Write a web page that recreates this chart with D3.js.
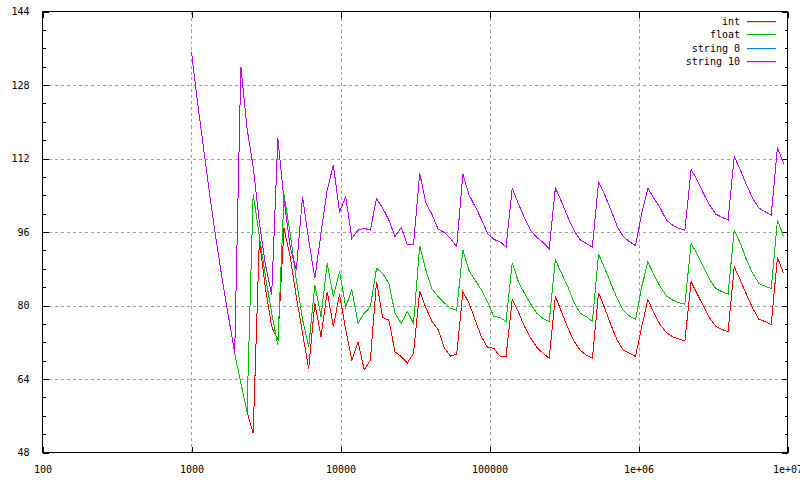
<!DOCTYPE html>
<html>
<head>
<meta charset="utf-8">
<script src="https://cdn.jsdelivr.net/npm/d3@7"></script>
<style>
  html, body { margin: 0; padding: 0; background: #fff; }
  svg { display: block; }
  text { font-family: "DejaVu Sans Mono", monospace; font-size: 10px; fill: #000; }
</style>
</head>
<body>
<svg id="chart" width="800" height="480"></svg>
<script>
// ---- data ----
const nValues = [1000,1100,1210,1331,1464,1611,1772,1949,2144,2358,2594,2853,3138,3452,3797,4177,4595,5054,5560,6116,6727,7400,8140,8954,9850,10835,11918,13110,14421,15863,17449,19194,21114,23225,25548,28102,30913,34004,37404,41145,45259,49785,54764,60240,66264,72890,80180,88197,97017,106719,117391,129130,142043,156247,171872,189059,207965,228762,251638,276801,304482,334930,368423,405265,445792,490371,539408,593349,652683,717952,789747,868722,955594,1051153,1156269,1271895,1399085,1538993,1692893,1862182,2048400,2253240,2478564,2726421,2999063,3298969,3628866,3991753,4390928,4830021,5313023,5844325,6428758,7071633,7778797,8556676,9412344];

const intValues = [135.2,124.0,113.8,103.7,94.3,85.5,77.6,69.6,63.1,56.9,52.2,94.3,83.7,75.4,72.5,96.8,90.6,81.9,74.0,66.3,80.5,73.2,83.0,75.4,82.5,74.7,68.1,72.1,66.0,68.1,85.2,77.4,76.8,69.9,68.9,67.5,69.6,83.2,79.5,76.5,74.7,70.7,69.0,69.4,83.0,80.5,76.8,73.2,70.9,70.7,69.0,68.9,81.3,78.6,75.4,72.9,70.9,69.6,68.5,82.0,78.6,75.2,72.3,70.3,69.2,68.5,82.8,79.4,75.8,72.5,70.3,69.6,68.9,75.4,81.3,78.3,75.8,74.1,73.2,72.7,72.3,85.2,82.5,79.9,77.3,75.5,74.8,74.3,88.4,85.5,82.3,79.4,77.0,76.5,75.8,90.5,87.0];

const floatValues = [135.2,124.0,113.8,103.7,94.3,85.5,77.6,69.6,63.1,56.9,104.3,95.0,86.3,78.3,71.4,104.1,95.7,85.5,77.0,71.0,84.5,77.6,89.2,81.9,87.4,79.7,83.4,76.1,78.3,79.7,88.1,87.0,84.8,78.3,76.1,78.7,76.1,93.0,87.7,83.6,81.9,80.6,79.4,79.0,92.1,87.6,85.5,83.4,80.8,77.6,77.4,76.5,89.3,85.2,82.6,80.3,78.3,77.2,76.5,90.0,87.0,84.1,80.8,78.3,77.6,76.5,91.2,88.1,84.8,81.6,78.9,77.7,77.0,84.1,89.5,86.6,84.1,82.1,81.2,80.6,80.3,93.5,91.2,88.4,85.7,83.7,83.0,82.5,96.4,93.5,89.9,87.0,84.8,84.2,83.7,98.6,95.1];

const string10Values = [135.2,124.0,113.8,103.7,94.3,85.5,77.6,69.6,132.0,118.6,110.2,98.2,88.8,82.3,116.4,103.0,92.8,87.7,103.7,94.3,85.9,95.7,105.1,110.6,100.4,103.7,94.6,96.4,96.8,96.4,103.3,101.2,98.6,95.0,97.0,93.2,93.3,108.8,102.4,99.8,96.6,95.9,94.6,92.8,108.6,104.1,101.5,98.8,95.7,94.4,93.9,92.7,105.5,102.2,99.0,96.3,94.8,93.7,92.4,105.6,102.6,99.3,96.4,94.3,93.5,92.7,106.9,104.1,100.8,97.3,95.0,93.9,93.0,100.1,105.5,103.3,101.2,98.6,97.5,96.8,96.4,109.6,107.3,104.4,101.9,99.9,99.2,98.6,112.5,109.5,106.2,103.3,101.2,100.4,99.7,114.4,110.9];

// "string 0" lies exactly under "string 10" in the reference (not visible)
const string0Values = string10Values.slice();

const seriesNames = ["int", "float", "string 0", "string 10"];
const seriesColors = ["#ff0000", "#00c000", "#0080ff", "#c000ff"];
const seriesValues = [intValues, floatValues, string0Values, string10Values];

const xTickValues = [100, 1000, 10000, 100000, 1000000, 10000000];
const xTickLabels = ["100", "1000", "10000", "100000", "1e+06", "1e+07"];
const yTickValues = [48, 64, 80, 96, 112, 128, 144];

// ---- layout ----
const svg = d3.select("#chart");
const pL = 42.5, pR = 787.5, pT = 11.5, pB = 452.5;

const x = d3.scaleLog().domain([100, 1e7]).range([pL, pR]);
const y = d3.scaleLinear().domain([48, 144]).range([pB, pT]);

// grid
const grid = svg.append("g").attr("stroke", "#a0a0a0").attr("stroke-width", 1)
  .attr("stroke-dasharray", "3,3").attr("shape-rendering", "crispEdges");
xTickValues.slice(1, -1).forEach(v => {
  grid.append("line").attr("x1", Math.round(x(v)) + 0.5).attr("x2", Math.round(x(v)) + 0.5)
    .attr("y1", pT).attr("y2", pB);
});
yTickValues.slice(1, -1).forEach(v => {
  grid.append("line").attr("x1", pL).attr("x2", pR)
    .attr("y1", Math.round(y(v)) + 0.5).attr("y2", Math.round(y(v)) + 0.5);
});

// axes via d3 axes (ticks inward)
const yMinor = d3.range(48, 145, 4).filter(v => !yTickValues.includes(v));
function addAxis(axis, tx, ty) {
  const g = svg.append("g").attr("transform", `translate(${tx},${ty})`)
    .attr("shape-rendering", "crispEdges").call(axis);
  g.select(".domain").remove();
  g.selectAll("text").attr("font-family", "DejaVu Sans Mono").attr("font-size", 10);
  return g;
}
addAxis(d3.axisLeft(y).tickValues(yTickValues).tickSizeInner(-6).tickSizeOuter(0).tickPadding(13), pL, 0);
addAxis(d3.axisLeft(y).tickValues(yMinor).tickSizeInner(-3).tickSizeOuter(0).tickFormat(""), pL, 0);
addAxis(d3.axisRight(y).tickValues(yTickValues).tickSizeInner(-6).tickSizeOuter(0).tickFormat(""), pR, 0);
addAxis(d3.axisRight(y).tickValues(yMinor).tickSizeInner(-3).tickSizeOuter(0).tickFormat(""), pR, 0);
addAxis(d3.axisBottom(x).tickValues(xTickValues).tickSizeInner(-6).tickSizeOuter(0).tickPadding(13)
  .tickFormat((d, i) => xTickLabels[i]), 0, pB);
addAxis(d3.axisTop(x).tickValues(xTickValues).tickSizeInner(-6).tickSizeOuter(0).tickFormat(""), 0, pT);

// series lines
const line = d3.line()
  .x((d, i) => x(nValues[i]))
  .y(d => y(d));

const seriesData = seriesNames.map((name, i) => ({ name, color: seriesColors[i], values: seriesValues[i] }));

svg.append("g").selectAll("path.series")
  .data(seriesData)
  .join("path")
  .attr("class", "series")
  .attr("fill", "none")
  .attr("stroke", d => d.color)
  .attr("stroke-width", 1)
  .attr("shape-rendering", "crispEdges")
  .attr("d", d => line(d.values));

// frame
svg.append("rect").attr("x", pL).attr("y", pT)
  .attr("width", pR - pL).attr("height", pB - pT)
  .attr("fill", "none").attr("stroke", "#000").attr("stroke-width", 1)
  .attr("shape-rendering", "crispEdges");

// legend
const legendRows = svg.append("g").selectAll("g.row")
  .data(seriesData)
  .join("g")
  .attr("class", "row")
  .attr("transform", (d, i) => `translate(0,${Math.round(21 + i * 13.3)})`);
legendRows.append("text").attr("x", 740).attr("y", 0).attr("dy", "0.35em")
  .attr("text-anchor", "end").text(d => d.name);
legendRows.append("rect").attr("x", 747).attr("y", 0).attr("width", 29).attr("height", 1.2)
  .attr("fill", d => d.color);
</script>
</body>
</html>
